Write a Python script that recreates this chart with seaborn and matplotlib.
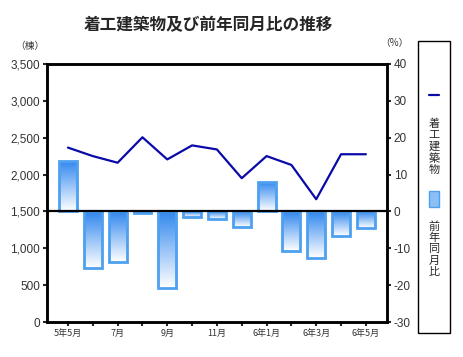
import numpy as np
import pandas as pd
import seaborn as sns
import matplotlib.pyplot as plt
from matplotlib.colors import LinearSegmentedColormap
from matplotlib.lines import Line2D
from matplotlib.patches import Rectangle

months = ['5年5月', '6月', '7月', '8月', '9月', '10月', '11月', '12月',
          '6年1月', '6年2月', '6年3月', '6年4月', '6年5月']
counts = [2365, 2250, 2160, 2505, 2205, 2395, 2340, 1950, 2250, 2130, 1665, 2275, 2275]
yoy = [13.7, -15.3, -13.8, -0.3, -20.9, -1.6, -2.1, -4.3, 8.0, -10.7, -12.6, -6.7, -4.4]
tick_labels = ['5年5月', '', '7月', '', '9月', '', '11月', '', '6年1月', '', '6年3月', '', '6年5月']

df = pd.DataFrame({'month': months, 'idx': range(len(months)), 'count': counts, 'yoy': yoy})

sns.set_style('white')
plt.rcParams['font.family'] = ['Noto Sans CJK JP', 'DejaVu Sans']

fig = plt.figure(figsize=(4.64, 3.57), dpi=100)
ax = fig.add_axes([0.101, 0.098, 0.733, 0.723])
ax2 = ax.twinx()

# line on left axis
sns.lineplot(data=df, x='idx', y='count', ax=ax, color='#0A0AA8', linewidth=1.6)

# bars on right axis
sns.barplot(data=df, x='month', y='yoy', order=months, ax=ax2, width=0.72,
            color='#4A9EEF', saturation=1)
cmap = LinearSegmentedColormap.from_list('g', ['#2F86EE', '#FFFFFF'])
grad = np.linspace(0, 1, 100).reshape(-1, 1)
for p in ax2.patches:
    x0, y0 = p.get_x(), p.get_y()
    w, h = p.get_width(), p.get_height()
    top, bot = max(y0, y0 + h), min(y0, y0 + h)
    im = ax2.imshow(grad, cmap=cmap, aspect='auto', extent=(x0, x0 + w, bot, top),
                    origin='upper', zorder=2)
    im.set_clip_path(p)
    p.set_facecolor('none')
    p.set_edgecolor('#4DA0F0')
    p.set_linewidth(2)
    p.set_zorder(3)

ax2.axhline(0, color='black', lw=1.6, zorder=4)

ax.set_ylim(0, 3500)
ax2.set_ylim(-30, 40)
ax.set_xlim(-0.85, 12.85)

ax.set_yticks(range(0, 3501, 500))
ax.set_yticklabels([f'{v:,}' for v in range(0, 3501, 500)], fontfamily='Liberation Sans',
                   fontsize=8.5, color='#333333')
ax2.set_yticks(range(-30, 41, 10))
ax2.set_yticklabels([str(v) for v in range(-30, 41, 10)], fontfamily='Liberation Sans',
                    fontsize=8.5, color='#333333')
ax.set_xticks(range(len(months)))
ax.set_xticklabels(tick_labels, fontsize=6.5, color='#333333')
ax.xaxis.set_visible(True)

ax.set_xlabel('')
ax.set_ylabel('')
ax2.set_xlabel('')
ax2.set_ylabel('')

for a in (ax, ax2):
    for s in a.spines.values():
        s.set_linewidth(1.8)
        s.set_color('black')
ax.tick_params(axis='both', direction='out', length=3, width=1.5, pad=2, left=True, bottom=True,
               labelbottom=True)
ax2.tick_params(axis='y', direction='out', length=3, width=1.5, pad=2, right=True)

fig.text(0.45, 0.93, '着工建築物及び前年同月比の推移', ha='center', va='center',
         fontsize=12, fontweight='bold')
fig.text(0.065, 0.87, '（棟）', ha='center', va='center', fontsize=7, color='#333333')
fig.text(0.85, 0.88, '（%）', ha='center', va='center', fontsize=7, color='#333333')

# legend box
fig.add_artist(Rectangle((418 / 464, 1 - 333 / 357), 32 / 464, 292 / 357,
                         transform=fig.transFigure, fill=False, edgecolor='black', lw=1))
fig.add_artist(Line2D([429 / 464, 439 / 464], [1 - 95 / 357] * 2, transform=fig.transFigure,
                      color='#0A0AA8', lw=1.6))
fig.text(434 / 464, 1 - 147 / 357, '着\n工\n建\n築\n物', ha='center', va='center',
         fontsize=8, linespacing=1.15)
fig.add_artist(Rectangle((429 / 464, 1 - 207 / 357), 10 / 464, 16 / 357,
                         transform=fig.transFigure, facecolor='#8CC0F5', edgecolor='#4DA0F0', lw=1))
fig.text(434 / 464, 1 - 249 / 357, '前\n年\n同\n月\n比', ha='center', va='center',
         fontsize=8, linespacing=1.15)

fig.savefig('out.png', dpi=100)
